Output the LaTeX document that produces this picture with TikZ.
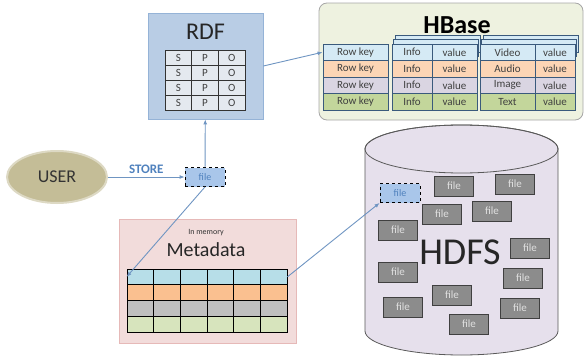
\documentclass[tikz,border=0pt]{standalone}
\usepackage{fontspec}
\setmainfont{Carlito}
\usetikzlibrary{arrows.meta,shapes.geometric}

\definecolor{linkblue}{HTML}{6F95C2}
\definecolor{storeblue}{HTML}{4F81BD}
\definecolor{rdffill}{HTML}{B9CDE5}
\definecolor{rdfline}{HTML}{95B3D7}
\definecolor{rdfcell}{HTML}{E4E9EF}
\definecolor{hbfill}{HTML}{EEF2E0}
\definecolor{hbline}{HTML}{3A5A7C}
\definecolor{hbblue}{HTML}{D5EAF5}
\definecolor{hborange}{HTML}{FCD5B5}
\definecolor{hbgray}{HTML}{DAD5E2}
\definecolor{hbgreen}{HTML}{C3D69B}
\definecolor{userfill}{HTML}{C4BD97}
\definecolor{userline}{HTML}{DDD9C4}
\definecolor{fileblue}{HTML}{A9C6EA}
\definecolor{metafill}{HTML}{F2DCDB}
\definecolor{metaline}{HTML}{E6B9B8}
\definecolor{mblue}{HTML}{B7DEE8}
\definecolor{morange}{HTML}{FAC090}
\definecolor{mgray}{HTML}{BFBFBF}
\definecolor{mgreen}{HTML}{D7E4BD}
\definecolor{hdfsfill}{HTML}{E6E0EC}
\definecolor{hdfsline}{HTML}{595959}
\definecolor{filegray}{HTML}{8C8C8C}

\begin{document}
\begin{tikzpicture}[x=1pt, y=-1pt,
  link/.style={draw=linkblue, line width=0.9pt, -{Latex[length=5pt,width=4pt]}},
  rdfbox/.style={draw=black!80, fill=rdfcell, minimum width=26.7pt, minimum height=15pt, inner sep=0pt, font=\fontsize{11}{12}\selectfont, text=black!75},
  hcell/.style={draw=hbline, line width=0.9pt, minimum height=16.5pt, inner sep=0pt, text=black!75, font=\fontsize{11}{12}\selectfont},
  mcell/.style={draw=black, line width=0.8pt, minimum width=26.67pt, minimum height=15.75pt, inner sep=0pt},
  gfile/.style={draw=black!75, fill=filegray, line width=0.8pt, minimum width=39pt, minimum height=20pt, inner sep=0pt, text=white!88!black, font=\fontsize{11}{12}\selectfont},
  bfile/.style={draw=black, dashed, fill=fileblue, line width=0.8pt, minimum width=40pt, minimum height=19pt, inner sep=0pt, text=storeblue, font=\fontsize{10}{11}\selectfont}]

\useasboundingbox (0,0) rectangle (584,356);

% RDF
\node[draw=rdfline, fill=rdffill, line width=0.8pt, minimum width=115pt, minimum height=106pt] (rdf) at (205.5,66) {};
\node[font=\fontsize{24}{26}\selectfont, text=black!85] (rdft) at (205.5,32) {RDF};
\foreach \r in {1,...,4} {
  \node[rdfbox] (s-\r) at (178.3,{42.5+15*\r}) {S};
  \node[rdfbox] (p-\r) at (205,{42.5+15*\r}) {P};
  \node[rdfbox] (o-\r) at (231.7,{42.5+15*\r}) {O};
}

% HBase
\node[draw=black!35, fill=hbfill, rounded corners=8pt, line width=0.8pt, minimum width=264pt, minimum height=117pt] (hbase) at (451,61.5) {};
\node[font=\bfseries\fontsize{26}{28}\selectfont] (hbt) at (457,25) {HBase};
\foreach \d in {2,1} {
  \draw[hbline, fill=hbblue, line width=0.6pt] ({392+1.5*\d},{43-4*\d}) rectangle ({477+1.5*\d},{60-4*\d});
  \draw[hbline, fill=hbblue, line width=0.6pt] ({480+1.5*\d},{43-4*\d}) rectangle ({575+1.5*\d},{60-4*\d});
}
\foreach \r/\c/\t in {1/hbblue/Video, 2/hborange/Audio, 3/hbgray/Image, 4/hbgreen/Text} {
  \node[hcell, fill=\c, minimum width=65pt] (k-\r) at (355.5,{35.75+16.5*\r}) {Row key};
  \node[hcell, fill=\c, minimum width=40pt] (i-\r) at (412,{35.75+16.5*\r}) {Info};
  \node[hcell, fill=\c, minimum width=45pt] (iv-\r) at (454.5,{35.75+16.5*\r}) {value};
  \node[hcell, fill=\c, minimum width=55pt] (t-\r) at (507.5,{35.75+16.5*\r}) {\t};
  \node[hcell, fill=\c, minimum width=40pt] (tv-\r) at (555,{35.75+16.5*\r}) {value};
}

% user and stored file
\node[ellipse, draw=userline, line width=2pt, fill=userfill, minimum width=100pt, minimum height=52pt, font=\fontsize{18}{20}\selectfont, text=black!80] (user) at (57,177) {USER};
\node[bfile] (sfile) at (205,177) {file};

% Metadata
\node[draw=metaline, fill=metafill, line width=0.8pt, minimum width=177pt, minimum height=124pt] (meta) at (207.5,281) {};
\node[font=\fontsize{8}{9}\selectfont, text=black!80] (inmem) at (206,233) {In memory};
\node[font=\fontsize{20}{22}\selectfont, text=black!85] (metat) at (206,250) {Metadata};
\foreach \r/\c in {1/mblue, 2/morange, 3/mgray, 4/mgreen}
  \foreach \k in {1,...,6}
    \node[mcell, fill=\c] (m-\r-\k) at ({127+26.67*(\k-0.5)},{269+15.75*(\r-0.5)}) {};

% HDFS
\draw[draw=hdfsline, fill=hdfsfill, line width=0.8pt] (365,149) -- (365,331)
  arc[start angle=180, end angle=360, x radius=96.5pt, y radius=24pt] -- (558,149)
  arc[start angle=0, end angle=180, x radius=96.5pt, y radius=24pt] -- cycle;
\draw[hdfsline, line width=0.8pt] (461.5,149) ellipse [x radius=96.5pt, y radius=24pt];
\node[font=\fontsize{38}{40}\selectfont, text=black!85] (hdfs) at (460,252) {HDFS};
\foreach \n/\x/\y in {1/454/186, 2/515/184, 3/442/214, 4/492/211, 5/398/230, 6/530/248,
                     7/398/272, 8/523/278, 9/452/295, 10/403/307, 11/520/308, 12/469/324}
  \node[gfile] (f-\n) at (\x,\y) {file};
\node[bfile] (hf) at (400,193) {file};

% links
\draw[link] (user) -- node[above, text=storeblue, font=\bfseries\fontsize{13}{14}\selectfont] {STORE} (sfile);
\draw[link] (sfile) -- (rdf);
\draw[link] (rdf.east) -- (k-1.west);
\draw[link] (sfile.south) -- (m-1-1.west);
\draw[link] (m-1-6.east) -- (hf.south west);
\end{tikzpicture}
\end{document}
